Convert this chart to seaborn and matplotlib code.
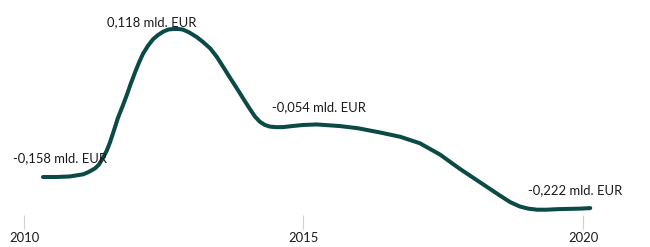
import matplotlib
matplotlib.use("Agg")
import matplotlib.pyplot as plt
import seaborn as sns
import pandas as pd

# Series (year, value in mld. EUR)
years = [2010.34, 2010.59, 2010.82, 2011.06, 2011.15, 2011.27, 2011.34, 2011.41,
         2011.48, 2011.54, 2011.61, 2011.68, 2011.76, 2011.84, 2011.91, 2011.99,
         2012.06, 2012.13, 2012.22, 2012.31, 2012.40, 2012.49, 2012.58, 2012.67,
         2012.76, 2012.84, 2012.95, 2013.09, 2013.20, 2013.33, 2013.45, 2013.56,
         2013.68, 2013.81, 2013.93, 2014.04, 2014.13, 2014.22, 2014.31, 2014.40,
         2014.50, 2014.63, 2014.80, 2014.99, 2015.24, 2015.65, 2015.97, 2016.37,
         2016.73, 2017.08, 2017.44, 2017.80, 2018.16, 2018.52, 2018.70, 2018.87,
         2019.02, 2019.18, 2019.35, 2019.54, 2019.95, 2020.13]
values = [-0.158, -0.158, -0.157, -0.153, -0.149, -0.142, -0.135, -0.123,
          -0.109, -0.093, -0.071, -0.048, -0.027, -0.005, 0.016, 0.038,
          0.056, 0.072, 0.087, 0.099, 0.107, 0.113, 0.117, 0.118,
          0.118, 0.117, 0.112, 0.103, 0.094, 0.082, 0.066, 0.048,
          0.028, 0.007, -0.013, -0.031, -0.045, -0.055, -0.061, -0.064,
          -0.065, -0.065, -0.063, -0.061, -0.060, -0.063, -0.067, -0.075,
          -0.083, -0.095, -0.116, -0.143, -0.168, -0.193, -0.205, -0.213,
          -0.217, -0.219, -0.219, -0.218, -0.217, -0.216]

tick_years = [2010, 2015, 2020]
tick_labels = ["2010", "2015", "2020"]

label_texts = ["-0,158 mld. EUR", "0,118 mld. EUR", "-0,054 mld. EUR", "-0,222 mld. EUR"]

df = pd.DataFrame({"year": years, "value": values})

sns.set_theme(style="white")
plt.rcParams["font.family"] = ["Lato", "DejaVu Sans"]

fig = plt.figure(figsize=(6.5, 2.47), dpi=100)
ax = fig.add_axes([0, 18 / 247, 1, 229 / 247])

sns.lineplot(data=df, x="year", y="value", ax=ax, color="#0c4a45",
             linewidth=2.9, solid_capstyle="round", solid_joinstyle="round")

ax.set_xlim(2009.571, 2021.199)
ax.set_ylim(-0.255, 0.1721)

# annotation anchor positions (year, value)
label_pos = [(2010.65, -0.1226), (2012.29, 0.131), (2015.27, -0.0275), (2019.86, -0.182)]
for txt, (lx, ly) in zip(label_texts, label_pos):
    ax.text(lx, ly, txt, ha="center", va="center", fontsize=9.4, color="#1a1a1a")

ax.set_xticks(tick_years)
ax.set_xticklabels(tick_labels)
ax.set_yticks([])
ax.tick_params(axis="x", direction="in", length=10, width=0.8, color="#d0d0d0",
               pad=2, labelsize=9.4, labelcolor="#1a1a1a", bottom=True)
for s in ax.spines.values():
    s.set_visible(False)
ax.set_xlabel("")
ax.set_ylabel("")

fig.savefig("out.png", dpi=100)
